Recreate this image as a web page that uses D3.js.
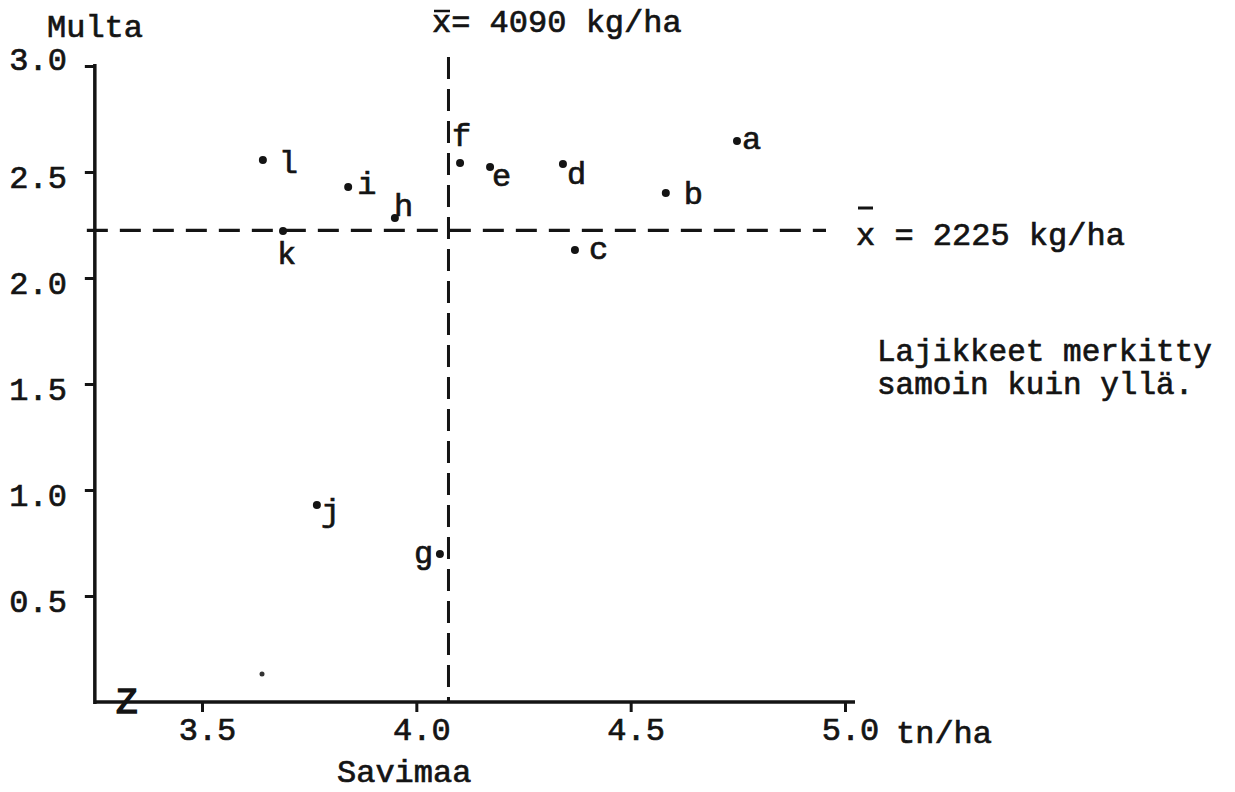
<!DOCTYPE html>
<html>
<head>
<meta charset="utf-8">
<script src="https://cdn.jsdelivr.net/npm/d3@7"></script>
<style>
  html, body { margin: 0; padding: 0; background: #fff; }
  svg { display: block; }
  text { font-family: "Liberation Mono", "DejaVu Sans Mono", monospace; fill: #141414; stroke: #141414; stroke-width: 0.7px; }
</style>
</head>
<body>
<svg id="chart" width="1235" height="792"></svg>
<script>
// ---- data ----
const varieties = ["a", "b", "c", "d", "e", "f", "g", "h", "i", "j", "k", "l"];
const savimaa   = [4.748, 4.582, 4.370, 4.342, 4.172, 4.102, 4.055, 3.950, 3.841, 3.768, 3.689, 3.642]; // tn/ha (x)
const multa     = [2.646, 2.401, 2.132, 2.538, 2.524, 2.542, 0.698, 2.283, 2.429, 0.929, 2.222, 2.557]; // tn/ha (y)
const extraX    = [3.64];   // unlabelled faint point
const extraY    = [0.132];
const xTicks    = [3.5, 4.0, 4.5, 5.0];
const yTicks    = [0.5, 1.0, 1.5, 2.0, 2.5, 3.0];
const meanSavimaa = 4.075;  // drawn position of the 4090 kg/ha line
const meanMulta   = 2.225;  // 2225 kg/ha

// ---- layout (label placement relative to each dot) ----
const labelOffset = {
  a: [5, 8], b: [18, 11], c: [14, 9], d: [4, 20], e: [2, 19], f: [-8, -17],
  g: [-26, 9], h: [-1, -2], i: [9, 7], j: [4, 16], k: [-6, 33], l: [16, 13]
};

const svg = d3.select("#chart");
const x = d3.scaleLinear().domain([3.5, 5.0]).range([202, 845]);
const y = d3.scaleLinear().domain([0, 3]).range([702, 66]);
const FS = 32;
const ink = "#141414";
const x0 = x(3.25);

// mean lines (dashed)
svg.append("line")
  .attr("x1", x(meanSavimaa)).attr("x2", x(meanSavimaa))
  .attr("y1", 57).attr("y2", y(0))
  .attr("stroke", ink).attr("stroke-width", 3)
  .attr("stroke-dasharray", "22 10");
svg.append("line")
  .attr("x1", x0 - 8).attr("x2", 826)
  .attr("y1", y(meanMulta)).attr("y2", y(meanMulta))
  .attr("stroke", ink).attr("stroke-width", 3.2)
  .attr("stroke-dasharray", "21 12");

// axes
const yAxis = d3.axisLeft(y).tickValues(yTicks).tickSize(10).tickSizeOuter(0)
  .tickFormat(d3.format(".1f"));
const gy = svg.append("g").attr("transform", `translate(${x0},0)`).call(yAxis);
gy.select(".domain").attr("stroke", ink).attr("stroke-width", 3.5)
  .attr("d", `M0,${y(0) + 2}V${y(3) - 2}`);
gy.selectAll(".tick line").attr("stroke", ink).attr("stroke-width", 3);
gy.selectAll(".tick text")
  .attr("x", -28).attr("dy", null).attr("y", d => d === 3 ? 3 : 15)
  .attr("text-anchor", "end")
  .style("font-size", FS + "px")
  .style("font-family", "'Liberation Mono', monospace").attr("fill", ink);

const xAxis = d3.axisBottom(x.copy().domain([3.25, 5.0]).range([x0, x(5.0)])).tickValues(xTicks)
  .tickSize(10).tickSizeOuter(0).tickFormat(d3.format(".1f"));
const gx = svg.append("g").attr("transform", `translate(0,${y(0)})`).call(xAxis);
gx.select(".domain").attr("stroke", ink).attr("stroke-width", 3.5)
  .attr("d", `M${x0},0H${x(5.0) + 10}`);
gx.selectAll(".tick line").attr("stroke", ink).attr("stroke-width", 3);
gx.selectAll(".tick text")
  .attr("x", 5).attr("y", 38).attr("dy", null)
  .attr("text-anchor", "middle")
  .style("font-size", FS + "px")
  .style("font-family", "'Liberation Mono', monospace").attr("fill", ink);

// axis-break mark
svg.append("text").attr("x", 116).attr("y", y(0) + 11)
  .style("font-size", "36px").style("stroke-width", "1.5px").text("Z");

// axis titles
svg.append("text").attr("x", 47).attr("y", 37)
  .style("font-size", FS + "px").text("Multa");
svg.append("text").attr("x", 337).attr("y", 782)
  .style("font-size", FS + "px").text("Savimaa");
svg.append("text").attr("x", 896).attr("y", 743)
  .style("font-size", FS + "px").text("tn/ha");

// mean annotations
svg.append("text").attr("x", 432).attr("y", 32)
  .style("font-size", FS + "px").text("x= 4090 kg/ha");
svg.append("line").attr("x1", 434).attr("x2", 450).attr("y1", 11).attr("y2", 11)
  .attr("stroke", ink).attr("stroke-width", 2.5);
svg.append("text").attr("x", 856).attr("y", 245)
  .style("font-size", FS + "px").text("x = 2225 kg/ha");
svg.append("line").attr("x1", 858).attr("x2", 873).attr("y1", 208).attr("y2", 208)
  .attr("stroke", ink).attr("stroke-width", 3);

// note
svg.append("text").attr("x", 877).attr("y", 361)
  .style("font-size", "31px").text("Lajikkeet merkitty");
svg.append("text").attr("x", 877).attr("y", 394)
  .style("font-size", "31px").text("samoin kuin yllä.");

// points
const pts = varieties.map((v, i) => ({ v, sx: savimaa[i], my: multa[i] }));
svg.append("g").selectAll("circle").data(pts).join("circle")
  .attr("cx", d => x(d.sx)).attr("cy", d => y(d.my)).attr("r", 4).attr("fill", ink);
svg.append("g").selectAll("text").data(pts).join("text")
  .attr("x", d => x(d.sx) + labelOffset[d.v][0])
  .attr("y", d => y(d.my) + labelOffset[d.v][1])
  .style("font-size", FS + "px").text(d => d.v);

svg.append("g").selectAll("circle").data(extraX.map((v, i) => [v, extraY[i]])).join("circle")
  .attr("cx", d => x(d[0])).attr("cy", d => y(d[1])).attr("r", 2.5).attr("fill", "#333");
</script>
</body>
</html>
